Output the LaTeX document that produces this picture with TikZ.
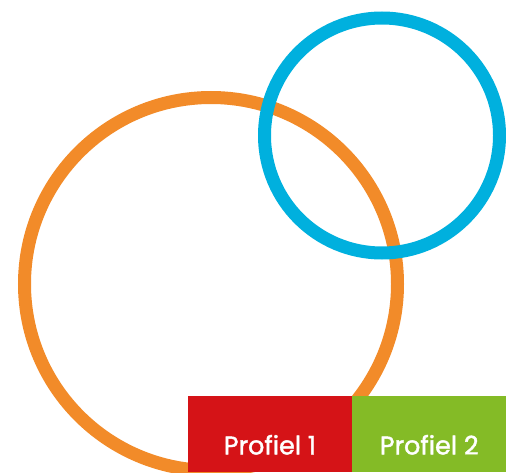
\documentclass[tikz,border=0pt]{standalone}
\usepackage{fontspec}
\setmainfont{Poppins}
\newfontfamily\tabfont[FakeBold=1.6]{Poppins}
\usepackage{xcolor}
\usepackage{tikz}
\usetikzlibrary{positioning}
\definecolor{ring1}{HTML}{F28B29}
\definecolor{ring2}{HTML}{00B0DE}
\definecolor{red2}{HTML}{D51317}
\definecolor{green2}{HTML}{84BB26}

\begin{document}
\begin{tikzpicture}[x=1pt,y=1pt,
          every node/.style={font=\tabfont\fontsize{25.5}{30}\selectfont},
          ring/.style={line width=13pt},
          tab/.style={fill=#1,draw=none,inner sep=0pt,
                      minimum height=76pt,anchor=south west},
          tablabel/.style={text=white,inner sep=0pt},
      ]
        \useasboundingbox (0,0) rectangle (506,472);
        \clip (0,0) rectangle (506,472);
        \draw[ring,draw=ring1] (211,188) circle (186.5);
        \draw[ring,draw=ring2] (382,336.5) circle (117.5);

        \node[tab=red2,minimum width=164.5pt] (p1) at (187.5,0) {};
        \node[tab=green2,minimum width=154pt] (p2) at (352,0) {};
        \node[tablabel] (l1) at ([yshift=-11pt]p1.center) {Profiel 1};
        \node[tablabel] (l2) at ([yshift=-11pt]p2.center) {Profiel 2};
      \end{tikzpicture}
\end{document}
